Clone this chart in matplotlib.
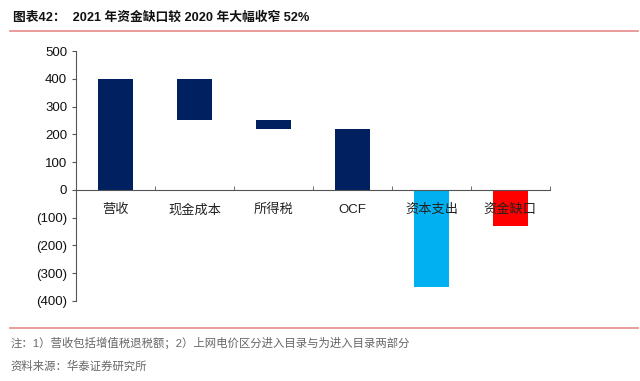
import matplotlib.pyplot as plt
from matplotlib.ticker import FuncFormatter, FixedLocator
from matplotlib.lines import Line2D

plt.rcParams['font.family'] = ['Liberation Sans', 'Noto Sans CJK SC']

# 瀑布图数据
categories = ['营收', '现金成本', '所得税', 'OCF', '资本支出', '资金缺口']
bar_high = [400, 400, 250, 220, 0, 0]
bar_low = [0, 250, 220, 0, -350, -130]
bar_colors = ['#002060', '#002060', '#002060', '#002060', '#00B0F0', '#FF0000']
y_ticks = [-400, -300, -200, -100, 0, 100, 200, 300, 400, 500]

title = '图表42：  2021 年资金缺口较 2020 年大幅收窄 52%'
note = '注：1）营收包括增值税退税额；2）上网电价区分进入目录与为进入目录两部分'
source = '资料来源：华泰证券研究所'

fig = plt.figure(figsize=(6.4, 3.81), dpi=100)
ax = fig.add_axes([0.119, 0.21, 0.74, 0.656])

x = list(range(len(categories)))
heights = [h - l for h, l in zip(bar_high, bar_low)]
ax.bar(x, heights, bottom=bar_low, width=0.45, color=bar_colors, zorder=1)

ax.set_xlim(-0.5, len(categories) - 0.5)
ax.set_ylim(-400, 500)
ax.set_yticks(y_ticks)
ax.yaxis.set_major_formatter(FuncFormatter(lambda v, p: f'({abs(int(v))})' if v < 0 else f'{int(v)}'))
ax.tick_params(axis='y', labelsize=9.5, length=3, color='#555555', labelcolor='#111111')

ax.spines['top'].set_visible(False)
ax.spines['right'].set_visible(False)
ax.spines['bottom'].set_position(('data', 0))
ax.spines['left'].set_color('#555555')
ax.spines['bottom'].set_color('#555555')

ax.set_xticks(x)
ax.set_xticklabels(categories, fontsize=9.5, color='#222222')
ax.tick_params(axis='x', length=0, pad=10)
ax.xaxis.set_minor_locator(FixedLocator([i + 0.5 for i in x]))
ax.tick_params(axis='x', which='minor', length=3, direction='in', color='#555555')
for lbl in ax.get_xticklabels():
    lbl.set_zorder(5)

fig.text(0.02, 0.953, title, fontsize=9.2, fontweight='bold', color='#111111', va='center')
fig.add_artist(Line2D([0.016, 0.997], [0.918, 0.918], color='#E58A8A', lw=1.2))
fig.add_artist(Line2D([0.016, 0.997], [0.139, 0.139], color='#E58A8A', lw=1.2))
fig.text(0.016, 0.1, note, fontsize=8.2, color='#666666', va='center')
fig.text(0.016, 0.04, source, fontsize=8.2, color='#666666', va='center')

plt.savefig('out.png', dpi=100)
